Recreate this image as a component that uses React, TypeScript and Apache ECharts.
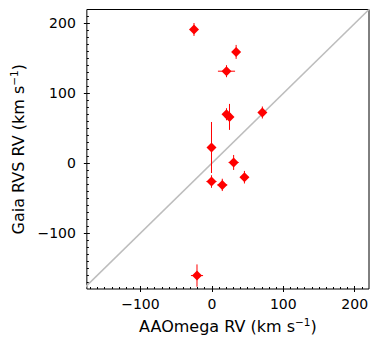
import React, { useEffect, useRef } from "react";
import * as echarts from "echarts";

// Measurements: AAOmega RV (x) vs Gaia RVS RV (y), with errors
const aaoRV = [-25, 34, 20.5, 20.5, 24.7, 70.7, -0.5, 30.5, -0.5, 14.6, 45.6, -20.8];
const gaiaRV = [191.4, 159.3, 131.7, 70.1, 66.3, 72.6, 22.5, 1.1, -26.2, -31, -20, -160.8];
const aaoErr = [3, 3, 12, 3, 3, 3, 2, 7, 7, 7, 5.5, 8.5];
const gaiaErr = [9.3, 10, 8.6, 8.6, 18.6, 8.6, 36.5, 10.7, 9, 8.8, 9, 16];

const oneToOne = [-180, 220];
const majorTicks = [-100, 0, 100, 200];
const minorTicks = [-170, -160, -150, -140, -130, -120, -110, -90, -80, -70, -60, -50, -40, -30, -20, -10, 10, 20, 30, 40, 50, 60, 70, 80, 90, 110, 120, 130, 140, 150, 160, 170, 180, 190, 210];

const FONT = "DejaVu Sans";
const fmt = (v: number) => String(v).replace("-", "\u2212");

export default function App() {
  const ref = useRef<HTMLDivElement>(null);
  useEffect(() => {
    if (!ref.current) return;
    const chart = echarts.init(ref.current, null, { renderer: "svg" });
    const points = aaoRV.map((x, i) => [x, gaiaRV[i], aaoErr[i], gaiaErr[i]]);
    const baseAxis = (min: number, max: number) => ({
      type: "value" as const,
      min,
      max,
      axisLine: { show: false, onZero: false },
      splitLine: { show: false },
    });
    const axesFor = (min: number, max: number, position: string, isX: boolean, name: string, nameGap: number) => [
      {
        ...baseAxis(min, max),
        position,
        axisTick: { show: true, inside: false, length: 3, customValues: majorTicks, lineStyle: { color: "#000", width: 1 } },
        axisLabel: {
          customValues: majorTicks,
          formatter: fmt,
          fontSize: 14,
          fontFamily: FONT,
          color: "#000",
          margin: isX ? 8 : 11,
        },
        name,
        nameLocation: "middle",
        nameGap,
        nameTextStyle: {
          color: "#000",
          rich: {
            a: { fontSize: 16, fontFamily: FONT, color: "#000", lineHeight: 21 },
            s: { fontSize: 10.5, fontFamily: FONT, color: "#000", lineHeight: 11, verticalAlign: "top" },
          },
        },
      },
      {
        ...baseAxis(min, max),
        position,
        axisTick: { show: true, inside: true, length: 3, customValues: majorTicks, lineStyle: { color: "#000", width: 1 } },
        axisLabel: { show: false },
      },
      {
        ...baseAxis(min, max),
        position,
        axisTick: { show: true, inside: true, length: 2, customValues: minorTicks, lineStyle: { color: "#000", width: 1 } },
        axisLabel: { show: false },
      },
    ];
    chart.setOption({
      animation: false,
      grid: {
        left: 82.5,
        top: 9.5,
        right: 22,
        bottom: 54,
        show: true,
        borderColor: "#000",
        borderWidth: 1,
        backgroundColor: "transparent",
      },
      xAxis: axesFor(-175, 220, "bottom", true, "{a|AAOmega RV (km s}{s|\u22121}{a|)}", 27),
      yAxis: axesFor(-180, 220, "left", false, "{a|Gaia RVS RV (km s}{s|\u22121}{a|)}", 46),
      series: [
        {
          type: "line",
          data: [
            [oneToOne[0], oneToOne[0]],
            [oneToOne[1], oneToOne[1]],
          ],
          symbol: "none",
          lineStyle: { color: "#bdbdbd", width: 1.6 },
          silent: true,
          z: 1,
        },
        {
          type: "custom",
          data: points,
          z: 2,
          renderItem: (_params: any, api: any) => {
            const x = api.value(0), y = api.value(1), ex = api.value(2), ey = api.value(3);
            const l = api.coord([x - ex, y]);
            const r = api.coord([x + ex, y]);
            const t = api.coord([x, y + ey]);
            const b = api.coord([x, y - ey]);
            return {
              type: "group",
              children: [
                { type: "line", shape: { x1: l[0], y1: l[1], x2: r[0], y2: r[1] }, style: { stroke: "#ff0000", lineWidth: 1 } },
                { type: "line", shape: { x1: t[0], y1: t[1], x2: b[0], y2: b[1] }, style: { stroke: "#ff0000", lineWidth: 1 } },
              ],
            };
          },
        },
        {
          type: "scatter",
          data: points.map((p) => [p[0], p[1]]),
          symbol: "diamond",
          symbolSize: 10,
          itemStyle: { color: "#ff0000", opacity: 1 },
          z: 3,
        },
      ],
    });
    return () => chart.dispose();
  }, []);
  return <div ref={ref} style={{ width: 391, height: 343, position: "absolute", left: 0, top: 0 }} />;
}
